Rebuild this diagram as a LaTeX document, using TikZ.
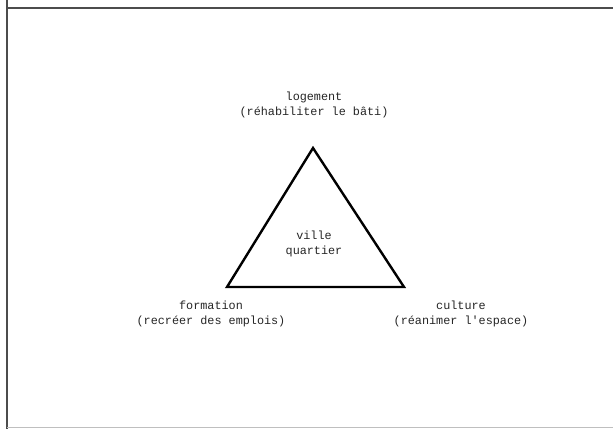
\documentclass[tikz,border=0pt]{standalone}
\usepackage{fontspec}
\setmainfont{Liberation Mono}[Ligatures=TeXOff]
\usetikzlibrary{positioning}

\begin{document}
\begin{tikzpicture}[x=1pt, y=-1pt,
    lbl/.style={align=center, font=\fontsize{11.8}{15.5}\selectfont, text=black!85, inner sep=0pt}]
    % cadre
    \useasboundingbox (0,0) rectangle (613,429);
    \fill[white] (0,0) rectangle (613,429);
    \draw[line width=2.6pt, black!70] (7,0) -- (7,429);
    \draw[line width=2.4pt, black!70] (7,8) -- (613,8);
    \draw[line width=1pt, black!25] (7,427.5) -- (613,427.5);

    % sommets du triangle
    \coordinate (haut) at (313,148);
    \coordinate (gauche) at (227,287);
    \coordinate (droite) at (404,287);
    \draw[line width=2.4pt, line join=miter] (haut) -- (gauche) -- (droite) -- cycle;

    % textes
    \node[lbl] (ville) at (314,244) {ville\\quartier};
    \node[lbl] (logement) at (314,105) {logement\\(réhabiliter le bâti)};
    \node[lbl] (formation) at (211,314) {formation\\(recréer des emplois)};
    \node[lbl] (culture) at (461,314) {culture\\(réanimer l'espace)};
\end{tikzpicture}
\end{document}
